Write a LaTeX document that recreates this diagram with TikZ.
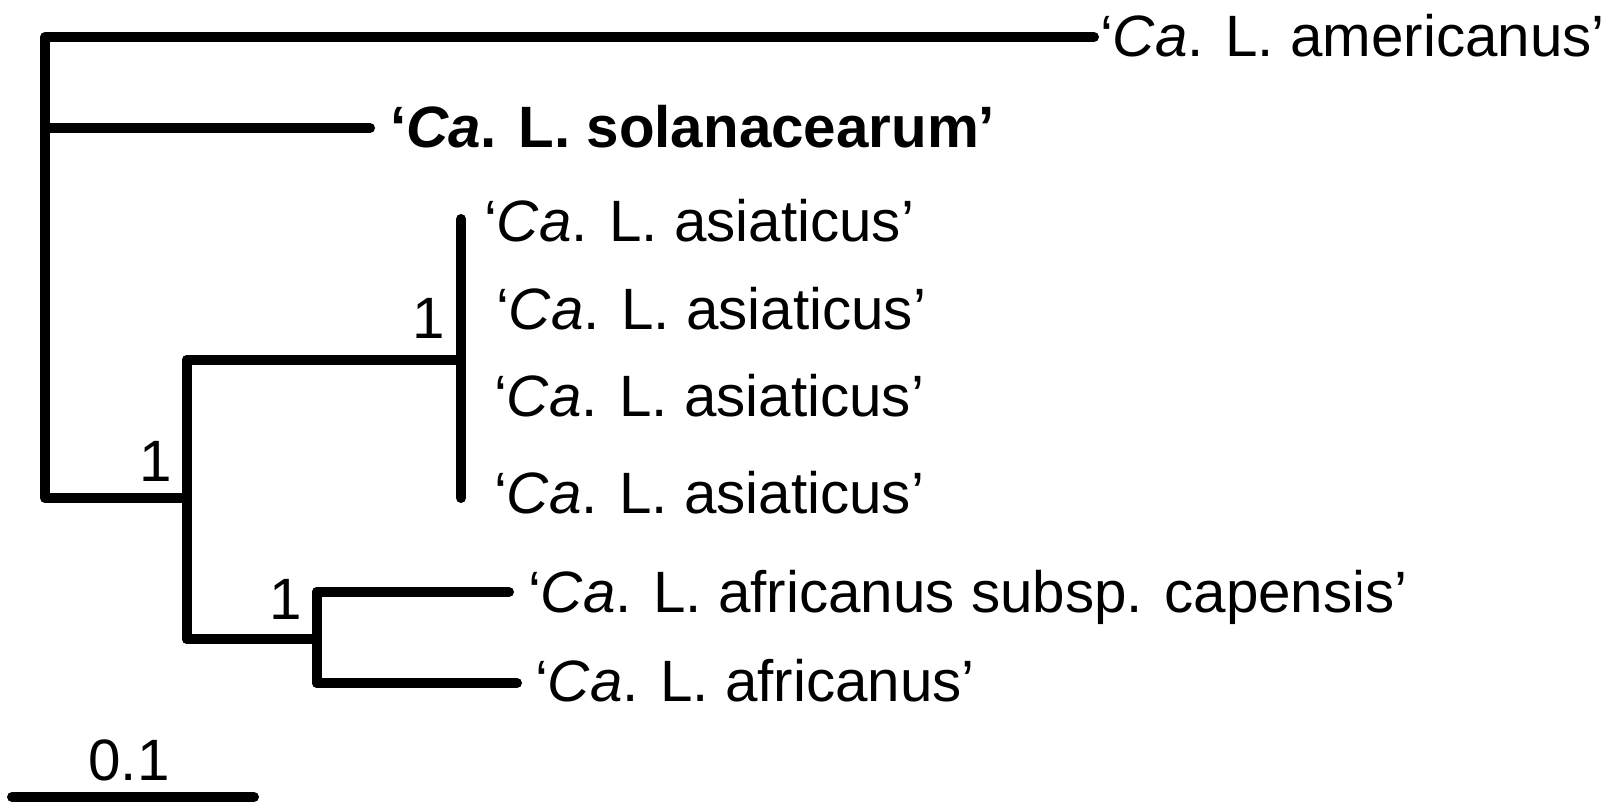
\documentclass[tikz,border=0pt]{standalone}
\usepackage{fontspec}
\setmainfont{Liberation Sans}
\usetikzlibrary{positioning}

\newcommand{\lib}[1]{‘\textit{Ca}. L. #1’}

\begin{document}
\begin{tikzpicture}[x=0.3pt, y=-0.3pt, line width=3pt, line cap=round, line join=round,
    taxon/.style={anchor=base west, inner sep=0pt, font=\fontsize{17.5}{20}\selectfont},
    support/.style={anchor=base, inner sep=0pt, font=\fontsize{17.5}{20}\selectfont}]
    \useasboundingbox (0,0) rectangle (1621,804);

    % Các nút của cây
    \coordinate (r1) at (45,37);
    \coordinate (r2) at (45,128);
    \coordinate (r3) at (45,498);
    \coordinate (nA) at (187,498);
    \coordinate (nAs) at (461,360);
    \coordinate (nAf) at (317,639);

    % Các lá
    \coordinate (amer) at (1094,37);
    \coordinate (sola) at (370,128);
    \coordinate (asia1) at (461,219);
    \coordinate (asia4) at (461,498);
    \coordinate (cape) at (509,592);
    \coordinate (afri) at (517,683);

    % Các nhánh
    \draw (amer) -- (r1) -- (r3) -- (nA);
    \draw (r2) -- (sola);
    \draw (nA |- nAs) -- (nA |- nAf);
    \draw (nA |- nAs) -- (nAs);
    \draw (asia1) -- (asia4);
    \draw (nA |- nAf) -- (nAf);
    \draw (nAf |- cape) -- (nAf |- afri);
    \draw (nAf |- cape) -- (cape);
    \draw (nAf |- afri) -- (afri);

    % Tên các loài
    \node[taxon] (tamer) at (1095,57) {\lib{americanus}};
    \node[taxon, font=\fontsize{17.5}{20}\selectfont\bfseries] (tsola) at (385,148) {\lib{solanacearum}};
    \node[taxon] (tasia1) at (479,242) {\lib{asiaticus}};
    \node[taxon] (tasia2) at (491,330) {\lib{asiaticus}};
    \node[taxon] (tasia3) at (489,417) {\lib{asiaticus}};
    \node[taxon] (tasia4) at (489,514) {\lib{asiaticus}};
    \node[taxon] (tcape) at (523,612) {\lib{africanus subsp. capensis}};
    \node[taxon] (tafri) at (530,701) {\lib{africanus}};

    % Giá trị hỗ trợ
    \node[support] (sAs) at (429,339) {1};
    \node[support] (sA) at (156,481) {1};
    \node[support] (sAf) at (286,619) {1};

    % Thước tỉ lệ
    \coordinate (sb1) at (12,797);
    \coordinate (sb2) at (254,797);
    \draw (sb1) -- (sb2);
    \node[support] (sblabel) at (129,780) {0.1};
\end{tikzpicture}
\end{document}
